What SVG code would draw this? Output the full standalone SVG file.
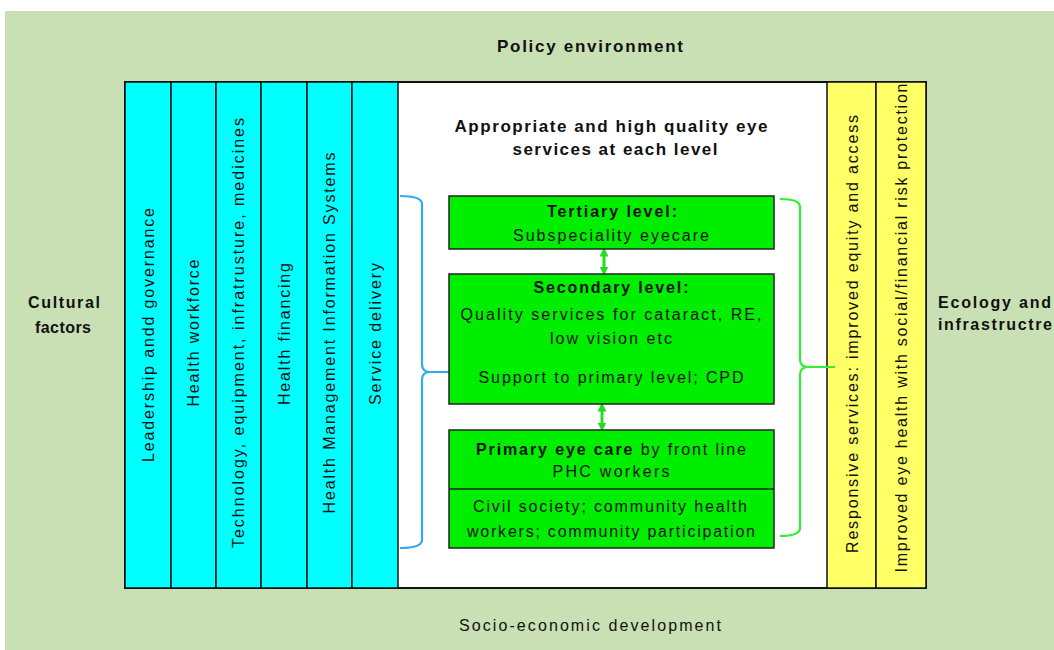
<svg xmlns="http://www.w3.org/2000/svg" width="1054" height="650" viewBox="0 0 1054 650">
<style>
text{font-family:"Liberation Sans",Arial,sans-serif;fill:#111;}
.b{font-weight:bold;}
.t15{font-size:16px;}
.t16{font-size:17px;}
.col{stroke:#111;stroke-width:1.5;}
.cy{fill:#00ffff;}
.ye{fill:#ffff66;}
.gb{fill:#00ee00;stroke:#222;stroke-width:1.5;}
.vt{font-size:16px;text-anchor:middle;}
.c{text-anchor:middle;}
</style>
<defs>
<marker id="ah" viewBox="0 0 10 10" refX="5" refY="5" markerWidth="3" markerHeight="3" orient="auto-start-reverse">
<path d="M0,0 L10,5 L0,10 z" fill="#22dd22"/>
</marker>
</defs>
<rect x="0" y="0" width="1054" height="650" fill="#ffffff"/>
<rect x="5" y="11" width="1049" height="639" fill="#c8e0b4"/>

<g id="policy"><text class="t16 b c" x="590" y="52" textLength="186" lengthAdjust="spacing">Policy environment</text></g>
<g id="socio"><text class="t15 c" x="590" y="631" textLength="262" lengthAdjust="spacing">Socio-economic development</text></g>
<g id="cultural">
<text class="t15 b c" x="64" y="308" textLength="72" lengthAdjust="spacing">Cultural</text>
<text class="t15 b c" x="63" y="333" textLength="56" lengthAdjust="spacing">factors</text>
</g>
<g id="ecology">
<text class="t15 b" x="938" y="308" textLength="113" lengthAdjust="spacing">Ecology and</text>
<text class="t15 b" x="938" y="330" textLength="114" lengthAdjust="spacing">infrastructre</text>
</g>

<g id="mainbox">
<rect x="125" y="82" width="801" height="506" fill="#ffffff" stroke="#111" stroke-width="2"/>
</g>
<g id="col1"><rect class="cy col" x="125" y="82" width="46" height="506"/>
<text class="vt" transform="translate(154,335) rotate(-90)" textLength="254" lengthAdjust="spacing">Leadership andd governance</text></g>
<g id="col2"><rect class="cy col" x="171" y="82" width="45" height="506"/>
<text class="vt" transform="translate(199,333) rotate(-90)" textLength="147" lengthAdjust="spacing">Health workforce</text></g>
<g id="col3"><rect class="cy col" x="216" y="82" width="45" height="506"/>
<text class="vt" transform="translate(244,333) rotate(-90)" textLength="430" lengthAdjust="spacing">Technology, equipment, infratrusture, medicines</text></g>
<g id="col4"><rect class="cy col" x="261" y="82" width="46" height="506"/>
<text class="vt" transform="translate(290,334) rotate(-90)" textLength="142" lengthAdjust="spacing">Health financing</text></g>
<g id="col5"><rect class="cy col" x="307" y="82" width="45" height="506"/>
<text class="vt" transform="translate(335,333) rotate(-90)" textLength="361" lengthAdjust="spacing">Health Management Information Systems</text></g>
<g id="col6"><rect class="cy col" x="352" y="82" width="46" height="506"/>
<text class="vt" transform="translate(381,334) rotate(-90)" textLength="142" lengthAdjust="spacing">Service delivery</text></g>
<g id="col7"><rect class="ye col" x="827" y="82" width="49" height="506"/>
<text class="vt" transform="translate(858,334) rotate(-90)" textLength="438" lengthAdjust="spacing">Responsive services: improved equity and access</text></g>
<g id="col8"><rect class="ye col" x="876" y="82" width="50" height="506"/>
<text class="vt" transform="translate(907,328) rotate(-90)" textLength="489" lengthAdjust="spacing">Improved eye health with social/financial risk protection</text></g>

<g id="heading">
<text class="t16 b c" x="611" y="132" textLength="313" lengthAdjust="spacing">Appropriate and high quality eye</text>
<text class="t16 b c" x="615" y="155" textLength="205" lengthAdjust="spacing">services at each level</text>
</g>

<g id="connectors" fill="none">
<path d="M400,196 Q422,196 422,204 L422,364 Q422,372 430,372 L460,372 M430,372 Q422,372 422,380 L422,540 Q422,548 400,548" stroke="#33aaee" stroke-width="2.2"/>
<path d="M780,199 Q800,199 800,207 L800,359 Q800,367 808,367 L835,367 M808,367 Q800,367 800,375 L800,528 Q800,536 780,536" stroke="#33ee33" stroke-width="2.2"/>
<line x1="604" y1="252" x2="604" y2="271" stroke="#22dd22" stroke-width="3" marker-start="url(#ah)" marker-end="url(#ah)"/>
<line x1="602" y1="407" x2="602" y2="427" stroke="#22dd22" stroke-width="3" marker-start="url(#ah)" marker-end="url(#ah)"/>
</g>

<g id="tertiary">
<rect class="gb" x="449" y="196" width="325" height="53"/>
<text class="t15 b c" x="612" y="217" textLength="130" lengthAdjust="spacing">Tertiary level:</text>
<text class="t15 c" x="611" y="241" textLength="196" lengthAdjust="spacing">Subspeciality eyecare</text>
</g>
<g id="secondary">
<rect class="gb" x="449" y="274" width="325" height="130"/>
<text class="t15 b c" x="611" y="293" textLength="155" lengthAdjust="spacing">Secondary level:</text>
<text class="t15 c" x="611" y="320" textLength="301" lengthAdjust="spacing">Quality services for cataract, RE,</text>
<text class="t15 c" x="611" y="344" textLength="122" lengthAdjust="spacing">low vision etc</text>
<text class="t15 c" x="611" y="383" textLength="265" lengthAdjust="spacing">Support to primary level; CPD</text>
</g>
<g id="primary">
<rect class="gb" x="449" y="430" width="325" height="118"/>
<line x1="449" y1="489" x2="774" y2="489" stroke="#222" stroke-width="1.5"/>
<text class="t15 c" x="611" y="455" textLength="270" lengthAdjust="spacing"><tspan class="b">Primary eye care</tspan> by front line</text>
<text class="t15 c" x="611" y="477" textLength="117" lengthAdjust="spacing">PHC workers</text>
<text class="t15 c" x="610" y="512" textLength="274" lengthAdjust="spacing">Civil society; community health</text>
<text class="t15 c" x="611" y="537" textLength="288" lengthAdjust="spacing">workers; community participation</text>
</g>
</svg>
